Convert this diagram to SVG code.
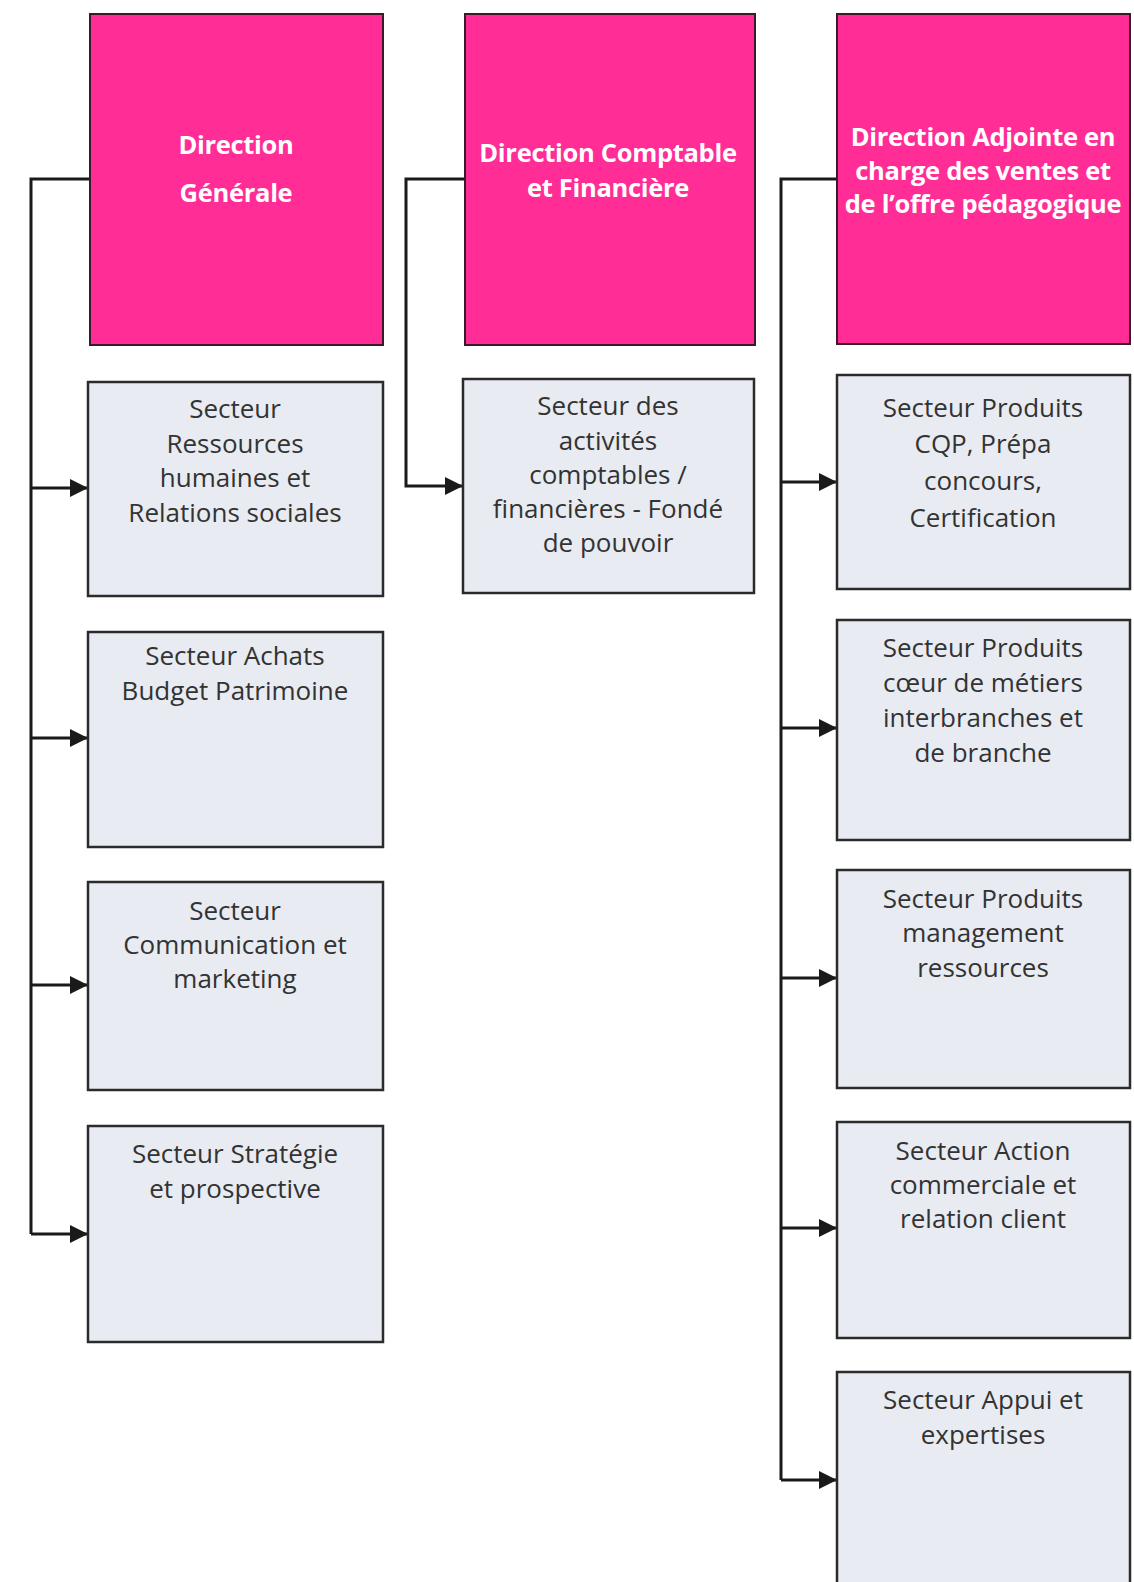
<svg xmlns="http://www.w3.org/2000/svg" width="1134" height="1582" viewBox="0 0 1134 1582">
  <style>
    .head rect { fill: #FF2D95; stroke: #3a1a2a; stroke-width: 2; }
    .head text { font-family: "Open Sans", "Liberation Sans", sans-serif; font-weight: bold; font-size: 25.5px; fill: #FFFFFF; text-anchor: middle; letter-spacing: -0.3px; }
    .sect rect { fill: #E8EBF2; stroke: #2b2b2b; stroke-width: 2.5; }
    .sect text { font-family: "Open Sans", "Liberation Sans", sans-serif; font-size: 26px; fill: #333333; text-anchor: middle; }
    .conn path { fill: none; stroke: #1a1a1a; stroke-width: 3; }
  </style>
  <defs>
    <marker id="arrow" markerUnits="userSpaceOnUse" markerWidth="20" markerHeight="18" refX="18" refY="9" orient="auto">
      <path d="M0,0 L18,9 L0,18 Z" fill="#1a1a1a"/>
    </marker>
  </defs>
  <rect width="1134" height="1582" fill="#FFFFFF"/>

  <g id="connectors" class="conn">
    <path d="M90,179 H31 V1234"/>
    <path d="M31,488 H88" marker-end="url(#arrow)"/>
    <path d="M31,738 H88" marker-end="url(#arrow)"/>
    <path d="M31,985 H88" marker-end="url(#arrow)"/>
    <path d="M31,1234 H88" marker-end="url(#arrow)"/>
    <path d="M465,179 H406 V486 H463" marker-end="url(#arrow)"/>
    <path d="M837,179 H781 V1480"/>
    <path d="M781,482 H837" marker-end="url(#arrow)"/>
    <path d="M781,728 H837" marker-end="url(#arrow)"/>
    <path d="M781,978 H837" marker-end="url(#arrow)"/>
    <path d="M781,1228 H837" marker-end="url(#arrow)"/>
    <path d="M781,1480 H837" marker-end="url(#arrow)"/>
  </g>

  <g id="direction-generale" class="head">
    <rect x="90" y="14" width="293" height="331"/>
    <text x="236" y="154">Direction</text>
    <text x="236" y="202">Générale</text>
  </g>
  <g id="direction-comptable" class="head">
    <rect x="465" y="14" width="290" height="331"/>
    <text x="608" y="162">Direction Comptable</text>
    <text x="608" y="197">et Financière</text>
  </g>
  <g id="direction-adjointe" class="head">
    <rect x="837" y="14" width="293" height="330"/>
    <text x="983" y="146">Direction Adjointe en</text>
    <text x="983" y="180">charge des ventes et</text>
    <text x="983" y="213">de l’offre pédagogique</text>
  </g>

  <g id="secteur-rh" class="sect">
    <rect x="88" y="382" width="295" height="214"/>
    <text x="235" y="418">Secteur</text>
    <text x="235" y="453">Ressources</text>
    <text x="235" y="487">humaines et</text>
    <text x="235" y="522">Relations sociales</text>
  </g>
  <g id="secteur-achats" class="sect">
    <rect x="88" y="632" width="295" height="215"/>
    <text x="235" y="665">Secteur Achats</text>
    <text x="235" y="700">Budget Patrimoine</text>
  </g>
  <g id="secteur-communication" class="sect">
    <rect x="88" y="882" width="295" height="208"/>
    <text x="235" y="920">Secteur</text>
    <text x="235" y="954">Communication et</text>
    <text x="235" y="988">marketing</text>
  </g>
  <g id="secteur-strategie" class="sect">
    <rect x="88" y="1126" width="295" height="216"/>
    <text x="235" y="1163">Secteur Stratégie</text>
    <text x="235" y="1198">et prospective</text>
  </g>

  <g id="secteur-comptable" class="sect">
    <rect x="463" y="379" width="291" height="214"/>
    <text x="608" y="415">Secteur des</text>
    <text x="608" y="450">activités</text>
    <text x="608" y="484">comptables /</text>
    <text x="608" y="518">financières - Fondé</text>
    <text x="608" y="552">de pouvoir</text>
  </g>

  <g id="secteur-cqp" class="sect">
    <rect x="837" y="375" width="293" height="214"/>
    <text x="983" y="417">Secteur Produits</text>
    <text x="983" y="453">CQP, Prépa</text>
    <text x="983" y="490">concours,</text>
    <text x="983" y="527">Certification</text>
  </g>
  <g id="secteur-coeur" class="sect">
    <rect x="837" y="620" width="293" height="220"/>
    <text x="983" y="657">Secteur Produits</text>
    <text x="983" y="692">cœur de métiers</text>
    <text x="983" y="727">interbranches et</text>
    <text x="983" y="762">de branche</text>
  </g>
  <g id="secteur-management" class="sect">
    <rect x="837" y="870" width="293" height="218"/>
    <text x="983" y="908">Secteur Produits</text>
    <text x="983" y="942">management</text>
    <text x="983" y="977">ressources</text>
  </g>
  <g id="secteur-action" class="sect">
    <rect x="837" y="1122" width="293" height="216"/>
    <text x="983" y="1160">Secteur Action</text>
    <text x="983" y="1194">commerciale et</text>
    <text x="983" y="1228">relation client</text>
  </g>
  <g id="secteur-appui" class="sect">
    <rect x="837" y="1372" width="293" height="230"/>
    <text x="983" y="1409">Secteur Appui et</text>
    <text x="983" y="1444">expertises</text>
  </g>
</svg>
